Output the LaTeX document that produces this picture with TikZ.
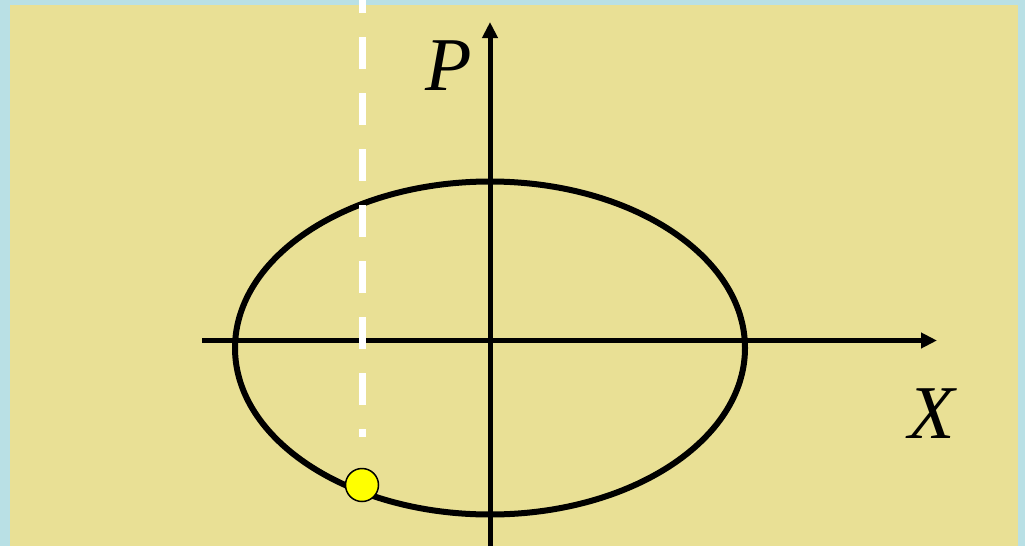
\documentclass[tikz,border=0pt]{standalone}
\usepackage{fontspec}
\setmainfont{Liberation Serif}
\usetikzlibrary{arrows.meta}
\definecolor{bgblue}{RGB}{185,224,229}
\definecolor{khaki}{RGB}{233,224,149}
\definecolor{dotyellow}{RGB}{255,255,0}
\tikzset{
  axisline/.style={line width=5pt, -{Triangle[length=16pt,width=15pt]}},
  curveline/.style={line width=6pt},
  guideline/.style={white, line width=7pt, dash pattern=on 32pt off 24pt},
  axlabel/.style={font=\itshape\fontsize{76}{76}\selectfont, inner sep=0pt},
  pointdot/.style={circle, draw=black, line width=1.5pt, fill=dotyellow, minimum size=33pt, inner sep=0pt}
}
\begin{document}
\begin{tikzpicture}[x=1pt,y=-1pt]
\useasboundingbox (0,0) rectangle (1025,546);
\fill[bgblue] (0,0) rectangle (1025,546);
\fill[khaki] (10,5) rectangle (1018,546);
% axes
\coordinate (xstart) at (202,340.5);
\coordinate (xend) at (937,340.5);
\coordinate (pstart) at (490,546);
\coordinate (pend) at (490,22);
\draw[axisline] (xstart) -- (xend);
\draw[axisline] (pstart) -- (pend);
% ellipse
\coordinate (ecenter) at (490,348);
\draw[curveline] (ecenter) ellipse [x radius=255, y radius=166.5];
% dashed guide
\coordinate (gtop) at (362,-19);
\coordinate (gbot) at (362,437);
\draw[guideline] (gtop) -- (gbot);
% point
\node[pointdot] (pt) at (362,485) {};
% labels
\node[axlabel] (plabel) at (449,66) {P};
\node[axlabel] (xlabel) at (932,414) {X};
\end{tikzpicture}
\end{document}
